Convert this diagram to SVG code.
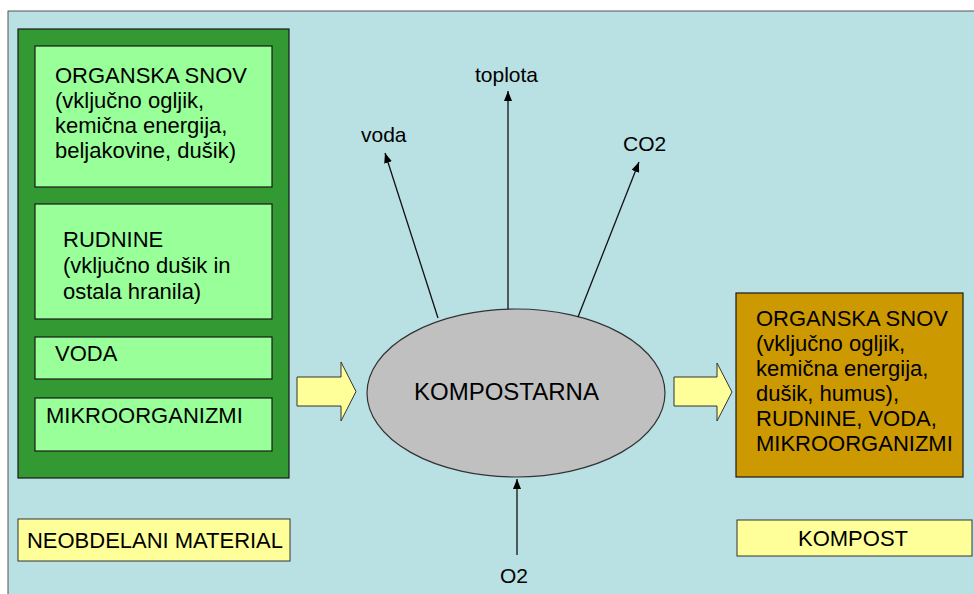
<svg xmlns="http://www.w3.org/2000/svg" width="974" height="594" viewBox="0 0 974 594">
  <defs>
    <style>
      text { font-family: "Liberation Sans", Arial, sans-serif; font-size: 22px; fill: #000; }
      .small { font-size: 21px; }
      .big { font-size: 24px; }
      .box { stroke: #1a1a1a; stroke-width: 1.2; }
      .light { fill: #99FF99; }
      .label { fill: #FFFF99; stroke: #333; stroke-width: 1; }
      .flow { fill: #FFFF99; stroke: #333; stroke-width: 1; }
      .out { stroke: #111; stroke-width: 1.3; fill: none; marker-end: url(#head); }
    </style>
    <marker id="head" markerUnits="userSpaceOnUse" markerWidth="10" markerHeight="8" refX="10" refY="4" orient="auto">
      <path d="M0,0 L10,4 L0,8 z" fill="#000"/>
    </marker>
  </defs>

  <!-- page -->
  <rect x="0" y="0" width="974" height="594" fill="#FFFFFF"/>
  <rect x="8" y="11" width="980" height="600" fill="#B9E0E3" stroke="#555" stroke-width="1"/>

  <!-- raw material column -->
  <g id="raw-material">
    <rect x="18" y="29" width="271" height="449" fill="#339933" class="box"/>
    <g id="organic-matter">
      <rect x="35" y="46" width="237" height="141" class="box light"/>
      <text x="55" y="83">ORGANSKA SNOV</text>
      <text x="55" y="108">(vključno ogljik,</text>
      <text x="55" y="133">kemična energija,</text>
      <text x="55" y="158">beljakovine, dušik)</text>
    </g>
    <g id="minerals">
      <rect x="35" y="204" width="237" height="115" class="box light"/>
      <text x="63" y="247">RUDNINE</text>
      <text x="63" y="273">(vključno dušik in</text>
      <text x="63" y="299">ostala hranila)</text>
    </g>
    <g id="water">
      <rect x="35" y="337" width="237" height="42" class="box light"/>
      <text x="55" y="361">VODA</text>
    </g>
    <g id="microorganisms">
      <rect x="35" y="398" width="237" height="53" class="box light"/>
      <text x="46" y="423">MIKROORGANIZMI</text>
    </g>
  </g>

  <!-- composting unit -->
  <g id="composting">
    <ellipse cx="516" cy="393" rx="149" ry="84" fill="#C0C0C0" stroke="#333" stroke-width="1.2"/>
    <text class="big" x="414" y="400">KOMPOSTARNA</text>
  </g>

  <!-- compost box -->
  <g id="compost">
    <rect x="736" y="293" width="227" height="184" fill="#CC9900" class="box"/>
    <text x="756" y="326">ORGANSKA SNOV</text>
    <text x="756" y="351">(vključno ogljik,</text>
    <text x="756" y="376">kemična energija,</text>
    <text x="756" y="401">dušik, humus),</text>
    <text x="756" y="426">RUDNINE, VODA,</text>
    <text x="756" y="451">MIKROORGANIZMI</text>
  </g>

  <!-- captions -->
  <g id="caption-raw">
    <rect x="18" y="519" width="272" height="42" class="label"/>
    <text x="155" y="548" text-anchor="middle" textLength="256" lengthAdjust="spacingAndGlyphs">NEOBDELANI MATERIAL</text>
  </g>
  <g id="caption-compost">
    <rect x="737" y="520" width="235" height="36" class="label"/>
    <text x="853" y="546" text-anchor="middle">KOMPOST</text>
  </g>

  <!-- output / input labels -->
  <g id="label-voda"><text class="small" x="361" y="142">voda</text></g>
  <g id="label-toplota"><text class="small" x="475" y="82">toplota</text></g>
  <g id="label-co2"><text class="small" x="623" y="151">CO2</text></g>
  <g id="label-o2"><text class="small" x="500" y="583">O2</text></g>

  <!-- connectors -->
  <g id="connectors">
    <path class="flow" d="M297,377 H341 V362 L356,391.5 L341,421 V406 H297 Z"/>
    <path class="flow" d="M674,377 H717 V363 L732,392 L717,421 V406 H674 Z"/>
    <line class="out" x1="438" y1="318" x2="385" y2="153"/>
    <line class="out" x1="508" y1="309" x2="508" y2="91"/>
    <line class="out" x1="578" y1="317" x2="639" y2="162"/>
    <line class="out" x1="517" y1="555" x2="517" y2="479"/>
  </g>
</svg>
